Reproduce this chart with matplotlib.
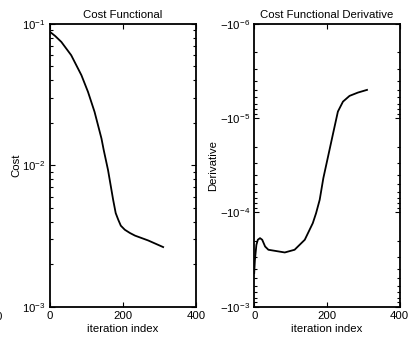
import matplotlib
matplotlib.use("Agg")
import matplotlib.pyplot as plt
import matplotlib.ticker as ticker
import numpy as np

plt.rcParams['font.family'] = ['Liberation Sans', 'DejaVu Sans']
plt.rcParams['font.size'] = 8.2
plt.rcParams['mathtext.fontset'] = 'custom'
plt.rcParams['mathtext.rm'] = 'Liberation Sans'
plt.rcParams['mathtext.it'] = 'Liberation Sans:italic'
plt.rcParams['mathtext.default'] = 'regular'

# cost functional
it_cost = [0, 14, 31, 58, 86, 104, 122, 141, 147, 159, 173, 180, 187, 194, 205, 219,
           233, 269, 310]
cost = [0.0878, 0.0822, 0.0746, 0.0601, 0.0434, 0.0331, 0.0239, 0.01547, 0.01288,
        0.00925, 0.0057, 0.00459, 0.00412, 0.00374, 0.0035, 0.00332, 0.00318,
        0.00294, 0.00264]

# derivative (negative values)
it_der = [0, 2, 6, 10, 16, 22, 30, 39, 84, 111, 139, 161, 170, 180, 190, 203, 217,
          230, 237, 244, 262, 285, 310]
deriv = [-4.4e-4, -3.18e-4, -2.21e-4, -1.95e-4, -1.875e-4, -1.95e-4, -2.30e-4,
         -2.49e-4, -2.66e-4, -2.49e-4, -1.95e-4, -1.30e-4, -1.02e-4, -7.34e-5,
         -4.33e-5, -2.55e-5, -1.44e-5, -8.51e-6, -7.53e-6, -6.67e-6, -5.80e-6,
         -5.35e-6, -5.01e-6]

xticks = [0, 200, 400]

fig = plt.figure(figsize=(4.10, 3.37), dpi=100)
ax1 = fig.add_axes([0.122, 0.090, 0.356, 0.839])
ax2 = fig.add_axes([0.620, 0.090, 0.355, 0.839])

def matlab_style(ax):
    for s in ax.spines.values():
        s.set_linewidth(1.3)
    ax.tick_params(which='both', direction='in', top=True, right=True, width=0.8)
    ax.tick_params(which='major', length=3.5, pad=3)
    ax.tick_params(which='minor', length=2)
    ax.set_xlim(0, 400)
    ax.set_xticks(xticks)
    ax.xaxis.set_minor_locator(ticker.NullLocator())
    ax.set_xlabel('iteration index', labelpad=2)

ax1.plot(it_cost, cost, color='black', lw=1.3)
ax1.set_yscale('log')
ax1.set_ylim(1e-3, 1e-1)
ax1.set_ylabel('Cost', labelpad=1)
ax1.set_title('Cost Functional', fontsize=8.2, pad=4)
matlab_style(ax1)

ax2.plot(it_der, -np.array(deriv), color='black', lw=1.3)
ax2.set_yscale('log')
ax2.set_ylim(1e-3, 1e-6)
ax2.yaxis.set_major_formatter(ticker.FuncFormatter(
    lambda v, p: r'$-10^{%d}$' % int(round(np.log10(v)))))
ax2.set_ylabel('Derivative', labelpad=1)
ax2.set_title('Cost Functional Derivative', fontsize=8.2, pad=4)
matlab_style(ax2)

# clipped tick label at the very left edge of the original image
fig.text(-0.012, 0.058, '0', ha='left', va='center')

fig.savefig('out.png', dpi=100)
